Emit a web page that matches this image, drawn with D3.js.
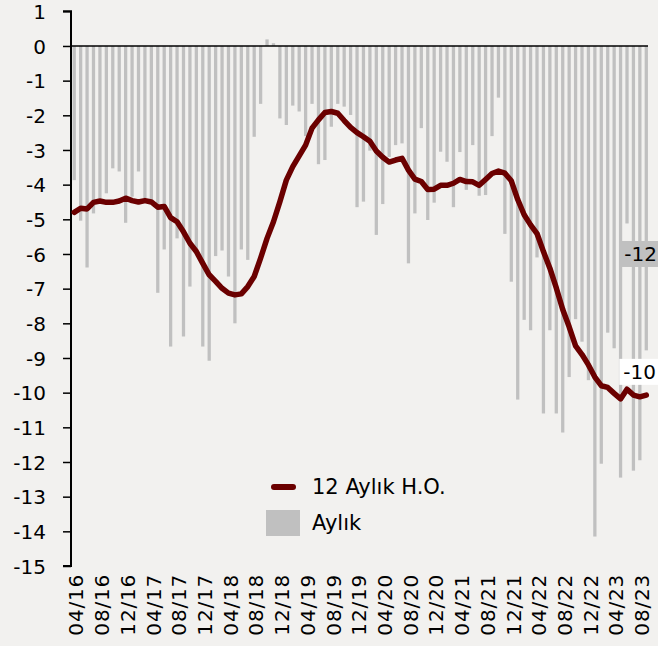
<!DOCTYPE html>
<html>
<head>
<meta charset="utf-8">
<script src="https://cdn.jsdelivr.net/npm/d3@7"></script>
<style>
    body { margin: 0; background: #f2f1ef; }
    #chart { width: 658px; height: 646px; }
    text { font-family: "DejaVu Sans", sans-serif; fill: #000; }
</style>
</head>
<body>
<div id="chart"></div>
<script>
var months = [
    "04/16","05/16","06/16","07/16","08/16","09/16","10/16","11/16","12/16",
    "01/17","02/17","03/17","04/17","05/17","06/17","07/17","08/17","09/17","10/17","11/17","12/17",
    "01/18","02/18","03/18","04/18","05/18","06/18","07/18","08/18","09/18","10/18","11/18","12/18",
    "01/19","02/19","03/19","04/19","05/19","06/19","07/19","08/19","09/19","10/19","11/19","12/19",
    "01/20","02/20","03/20","04/20","05/20","06/20","07/20","08/20","09/20","10/20","11/20","12/20",
    "01/21","02/21","03/21","04/21","05/21","06/21","07/21","08/21","09/21","10/21","11/21","12/21",
    "01/22","02/22","03/22","04/22","05/22","06/22","07/22","08/22","09/22","10/22","11/22","12/22",
    "01/23","02/23","03/23","04/23","05/23","06/23","07/23","08/23","09/23"
];

// Aylık (bars)
var monthly = [
    -3.87, -5.04, -6.39, -4.83, -4.4, -4.25, -3.53, -3.62, -5.1,
    -4.35, -3.62, -4.4, -4.45, -7.12, -5.87, -8.67, -5.55, -8.38, -6.94, -6.0, -8.67,
    -9.08, -6.06, -5.9, -6.65, -8.0, -5.87, -6.17, -2.62, -1.67, 0.19, 0.08, -2.09,
    -2.28, -1.72, -1.89, -2.6, -1.67, -3.41, -3.29, -2.33, -1.67, -1.75, -1.99, -4.65,
    -4.49, -3.02, -5.45, -4.56, -3.2, -2.86, -2.81, -6.27, -4.83, -2.37, -5.02, -4.52,
    -3.05, -3.34, -4.65, -3.06, -4.15, -2.86, -4.32, -4.3, -2.6, -1.49, -5.42, -6.8,
    -10.2, -7.9, -8.2, -6.1, -10.6, -8.2, -10.6, -11.15, -9.55, -7.88, -8.53, -9.64,
    -14.15, -12.05, -8.27, -8.72, -12.45, -5.12, -12.25, -11.95, -8.78
];

// 12 Aylık H.O. (line)
var annual = [
    -4.8, -4.68, -4.7, -4.51, -4.47, -4.51, -4.51, -4.47, -4.39,
    -4.46, -4.5, -4.46, -4.5, -4.65, -4.63, -4.95, -5.07, -5.36, -5.69, -5.93, -6.27,
    -6.6, -6.79, -6.99, -7.13, -7.18, -7.15, -6.94, -6.65, -6.12, -5.55, -5.07, -4.49,
    -3.87, -3.48, -3.17, -2.86, -2.37, -2.13, -1.92, -1.89, -1.94, -2.15, -2.35, -2.5,
    -2.62, -2.75, -3.03, -3.21, -3.35, -3.29, -3.24, -3.58, -3.84, -3.91, -4.14, -4.13,
    -4.02, -4.02, -3.96, -3.85, -3.91, -3.92, -4.02, -3.85, -3.68, -3.61, -3.67, -3.89,
    -4.43, -4.87, -5.16, -5.41, -5.93, -6.41, -6.98, -7.6, -8.1, -8.65, -8.9, -9.2,
    -9.55, -9.8, -9.85, -10.02, -10.18, -9.9, -10.07, -10.12, -10.07
];

var tickLabels = ["04/16","08/16","12/16","04/17","08/17","12/17","04/18","08/18","12/18",
    "04/19","08/19","12/19","04/20","08/20","12/20","04/21","08/21","12/21",
    "04/22","08/22","12/22","04/23","08/23"];
var yTicks = d3.range(1, -16, -1);
var seriesNames = ["12 Aylık H.O.", "Aylık"];
var endLabels = ["-12", "-10"];

var lineColor = "#6b0000";
var barColor = "#c0c0c0";

var width = 658, height = 646;
var svg = d3.select("#chart").append("svg")
    .attr("width", width)
    .attr("height", height);

svg.append("rect").attr("width", width).attr("height", height).attr("fill", "#f2f1ef");

var x = d3.scaleBand()
    .domain(months)
    .range([71, 649.5])
    .paddingInner(0.49)
    .paddingOuter(0.245);

var y = d3.scaleLinear()
    .domain([-15, 1])
    .range([566, 11.3]);

// bars
svg.append("g").selectAll("rect")
    .data(monthly)
    .enter().append("rect")
    .attr("x", function(d, i) { return x(months[i]); })
    .attr("width", x.bandwidth())
    .attr("y", function(d) { return y(Math.max(0, d)); })
    .attr("height", function(d) { return Math.abs(y(d) - y(0)); })
    .attr("fill", barColor);

// zero line
svg.append("line")
    .attr("x1", 71).attr("x2", 648)
    .attr("y1", y(0)).attr("y2", y(0))
    .attr("stroke", "#000")
    .attr("stroke-width", 1.5);

// y axis
var yAxis = d3.axisLeft(y)
    .tickValues(yTicks)
    .tickSize(8)
    .tickPadding(17)
    .tickFormat(function(d) { return String(d); });

var gy = svg.append("g")
    .attr("transform", "translate(71,0)")
    .call(yAxis);
gy.select(".domain").attr("stroke", "#000").attr("stroke-width", 2)
    .attr("d", "M-8," + y(1) + "H0V" + y(-15) + "H-8");
gy.selectAll(".tick line").attr("stroke", "#000").attr("stroke-width", 1.5);
gy.selectAll(".tick text")
    .style("font-size", "20px")
    .style("font-family", "'DejaVu Sans', sans-serif")
    .attr("dy", "0.36em");

// x labels (rotated)
var xAxis = d3.axisBottom(x)
    .tickValues(tickLabels)
    .tickSize(0)
    .tickPadding(0);

var gx = svg.append("g")
    .attr("transform", "translate(0,572)")
    .call(xAxis);
gx.select(".domain").remove();
gx.selectAll(".tick text")
    .style("font-size", "20px")
    .style("font-family", "'DejaVu Sans', sans-serif")
    .style("letter-spacing", "0.8px")
    .attr("text-anchor", "end")
    .attr("transform", "rotate(-90)")
    .attr("x", -2)
    .attr("y", 2)
    .attr("dy", "0.36em");

// line
var line = d3.line()
    .x(function(d, i) { return x(months[i]) + x.bandwidth() / 2; })
    .y(function(d) { return y(d); });

svg.append("path")
    .datum(annual)
    .attr("d", line)
    .attr("fill", "none")
    .attr("stroke", lineColor)
    .attr("stroke-width", 5.5)
    .attr("stroke-linejoin", "round")
    .attr("stroke-linecap", "round");

// end labels
var lastX = x(months[months.length - 1]) + x.bandwidth() / 2;
var lab1 = svg.append("g").attr("transform", "translate(" + (lastX - 26) + "," + y(-6.0) + ")");
lab1.append("rect").attr("x", 0).attr("y", -13).attr("width", 40).attr("height", 26).attr("fill", barColor);
lab1.append("text").attr("x", 4).attr("y", 0).attr("dy", "0.36em")
    .style("font-size", "20px").text(endLabels[0]);

var lab2 = svg.append("g").attr("transform", "translate(" + (lastX - 27) + "," + y(-9.4) + ")");
lab2.append("rect").attr("x", 0).attr("y", -13).attr("width", 42).attr("height", 26).attr("fill", "#fff");
lab2.append("text").attr("x", 4).attr("y", 0).attr("dy", "0.36em")
    .style("font-size", "20px").text(endLabels[1]);

// legend
var legend = svg.append("g");
legend.append("line")
    .attr("x1", 274).attr("x2", 293)
    .attr("y1", 487).attr("y2", 487)
    .attr("stroke", lineColor)
    .attr("stroke-width", 6)
    .attr("stroke-linecap", "round");
legend.append("text")
    .attr("x", 312).attr("y", 494)
    .style("font-size", "21px")
    .text(seriesNames[0]);
legend.append("rect")
    .attr("x", 266).attr("y", 510)
    .attr("width", 34).attr("height", 26)
    .attr("fill", barColor);
legend.append("text")
    .attr("x", 312).attr("y", 530)
    .style("font-size", "21px")
    .text(seriesNames[1]);
</script>
</body>
</html>
